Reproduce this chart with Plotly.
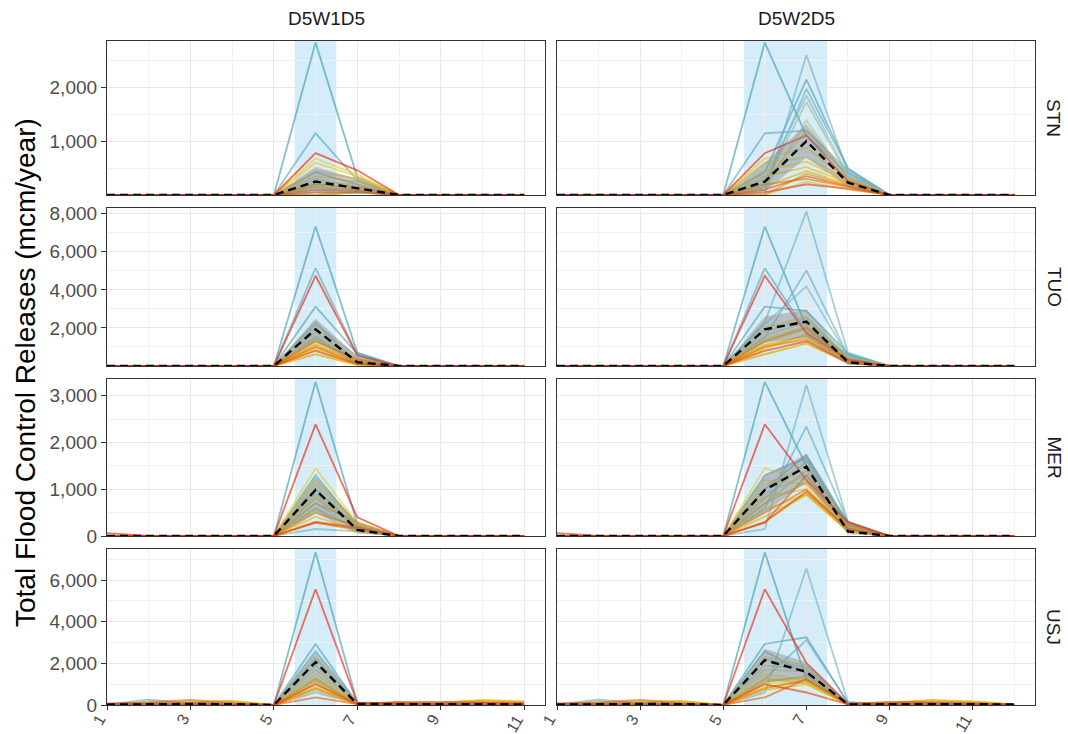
import plotly.graph_objects as go

# ---------------- data ----------------
YEARS_W1 = list(range(1, 12))
YEARS_W2 = list(range(1, 13))
SITES = ["STN", "TUO", "MER", "USJ"]
SCENARIOS = ["D5W1D5", "D5W2D5"]
WET_W1 = [5.5, 6.5]
WET_W2 = [5.5, 7.5]

# ensemble members (20), values at wet-period years (all other years are 0)
STN_X6    = [2840, 420, 1150, 150, 0, 300, 200, 100, 250, 0, 680, 600, 450, 350, 150, 0, 200, 100, 50, 780]
STN_W1_X7 = [330, 200, 280, 100, 50, 150, 120, 80, 200, 50, 380, 350, 300, 250, 100, 50, 150, 80, 60, 460]
STN_W2_X7 = [1100, 2150, 1200, 1980, 2610, 1850, 1730, 1390, 1200, 250, 880, 700, 620, 520, 450, 400, 300, 350, 200, 1110]
STN_W2_X8 = [400, 500, 450, 480, 420, 380, 350, 300, 330, 100, 300, 280, 250, 230, 200, 180, 150, 160, 120, 260]

TUO_X6    = [7330, 3120, 5140, 1500, 2300, 2200, 1800, 1600, 2000, 600, 1200, 900, 1400, 1000, 630, 1100, 1000, 1300, 800, 4740]
TUO_W1_X7 = [700, 650, 600, 150, 100, 500, 200, 150, 400, 50, 250, 150, 300, 100, 80, 200, 150, 350, 100, 550]
TUO_W2_X7 = [2050, 2900, 1800, 5020, 8120, 4180, 2500, 2300, 2600, 1200, 1900, 1700, 2100, 1500, 1170, 1600, 1400, 2000, 1300, 1720]
TUO_W2_X8 = [600, 650, 500, 550, 700, 500, 400, 350, 450, 150, 300, 250, 400, 300, 200, 250, 200, 300, 150, 350]

MER_X6    = [3300, 1000, 1300, 600, 150, 800, 700, 900, 1100, 300, 1450, 1200, 840, 560, 415, 700, 500, 280, 300, 2390]
MER_W1_X7 = [250, 200, 220, 150, 100, 180, 150, 200, 250, 100, 280, 250, 200, 150, 120, 300, 200, 150, 180, 400]
MER_W2_X7 = [1500, 1735, 1670, 2340, 3230, 1600, 1400, 1300, 1500, 900, 1200, 1100, 1000, 900, 880, 1150, 1000, 1300, 950, 1200]
MER_W2_X8 = [300, 280, 250, 300, 306, 250, 200, 220, 250, 100, 200, 180, 150, 120, 100, 200, 150, 250, 150, 300]
MER_X1    = [0, 0, 0, 0, 0, 0, 0, 0, 0, 0, 0, 0, 0, 0, 0, 0, 0, 0, 0, 60]

USJ_X6    = [7330, 2930, 2580, 1260, 600, 2200, 1900, 1700, 2300, 1020, 1500, 1300, 1190, 870, 710, 1100, 800, 370, 1000, 5560]
USJ_W1_X7 = [100, 80, 120, 60, 50, 100, 80, 60, 90, 40, 70, 60, 50, 40, 30, 60, 50, 40, 50, 100]
USJ_W1_X8 = [60, 50, 80, 40, 30, 60, 50, 40, 70, 30, 60, 50, 100, 40, 30, 120, 60, 150, 40, 80]
USJ_W2_X7 = [1200, 3250, 1500, 3120, 6550, 1800, 1700, 1600, 1900, 1100, 1180, 1020, 1300, 1100, 1000, 1400, 1200, 1250, 600, 2020]
USJ_W2_X8 = [80, 100, 60, 120, 150, 50, 40, 40, 50, 30, 40, 30, 50, 30, 20, 40, 30, 50, 30, 60]
# small off-season releases at USJ (years 1..12) for some members
USJ_BG = {
    2:  [30, 260, 90, 60, 0, 0, 0, 0, 80, 60, 40, 20],
    8:  [20, 180, 120, 90, 0, 0, 0, 0, 60, 90, 50, 20],
    12: [10, 80, 120, 200, 0, 0, 0, 0, 120, 220, 180, 40],
    14: [10, 60, 150, 180, 0, 0, 0, 0, 100, 250, 150, 30],
    17: [40, 120, 250, 100, 0, 0, 0, 0, 150, 150, 100, 30],
    19: [80, 60, 80, 40, 0, 0, 0, 0, 60, 100, 60, 20],
}

# ensemble mean and spread band
STN_MEAN_W1 = [0, 0, 0, 0, 0, 250, 130, 0, 0, 0, 0]
STN_LO_W1   = [0, 0, 0, 0, 0, 40, 30, 0, 0, 0, 0]
STN_HI_W1   = [0, 0, 0, 0, 0, 525, 300, 0, 0, 0, 0]
STN_MEAN_W2 = [0, 0, 0, 0, 0, 250, 1005, 230, 0, 0, 0, 0]
STN_LO_W2   = [0, 0, 0, 0, 0, 60, 700, 150, 0, 0, 0, 0]
STN_HI_W2   = [0, 0, 0, 0, 0, 600, 1320, 360, 0, 0, 0, 0]

TUO_MEAN_W1 = [0, 0, 0, 0, 0, 1930, 200, 0, 0, 0, 0]
TUO_LO_W1   = [0, 0, 0, 0, 0, 1300, 100, 0, 0, 0, 0]
TUO_HI_W1   = [0, 0, 0, 0, 0, 2500, 500, 0, 0, 0, 0]
TUO_MEAN_W2 = [0, 0, 0, 0, 0, 1930, 2330, 200, 0, 0, 0, 0]
TUO_LO_W2   = [0, 0, 0, 0, 0, 1250, 1500, 50, 0, 0, 0, 0]
TUO_HI_W2   = [0, 0, 0, 0, 0, 2600, 2950, 500, 0, 0, 0, 0]

MER_MEAN_W1 = [0, 0, 0, 0, 0, 985, 130, 0, 0, 0, 0]
MER_LO_W1   = [0, 0, 0, 0, 0, 500, 50, 0, 0, 0, 0]
MER_HI_W1   = [0, 0, 0, 0, 0, 1270, 300, 0, 0, 0, 0]
MER_MEAN_W2 = [0, 0, 0, 0, 0, 985, 1485, 100, 0, 0, 0, 0]
MER_LO_W2   = [0, 0, 0, 0, 0, 500, 1150, 30, 0, 0, 0, 0]
MER_HI_W2   = [0, 0, 0, 0, 0, 1300, 1750, 250, 0, 0, 0, 0]

USJ_MEAN_W1 = [20, 50, 50, 40, 0, 2060, 50, 40, 50, 40, 30]
USJ_LO_W1   = [0, 20, 20, 20, 0, 1150, 20, 20, 20, 20, 10]
USJ_HI_W1   = [60, 150, 150, 120, 30, 2540, 120, 100, 150, 120, 60]
USJ_MEAN_W2 = [20, 50, 50, 40, 0, 2150, 1590, 30, 40, 50, 40, 20]
USJ_LO_W2   = [0, 20, 20, 20, 0, 1100, 1150, 10, 20, 20, 20, 10]
USJ_HI_W2   = [60, 150, 150, 120, 30, 2700, 2050, 100, 120, 150, 120, 60]

Y_RANGES = {"STN": [0, 2870], "TUO": [0, 8300], "MER": [0, 3360], "USJ": [0, 7490]}
Y_TICKS = {"STN": [1000, 2000], "TUO": [2000, 4000, 6000, 8000],
           "MER": [0, 1000, 2000, 3000], "USJ": [0, 2000, 4000, 6000]}
Y_MINOR = {"STN": [500, 1500, 2500], "TUO": [1000, 3000, 5000, 7000],
           "MER": [500, 1500, 2500], "USJ": [1000, 3000, 5000, 7000]}
X_TICKS = [1, 3, 5, 7, 9, 11]

PANELS = {
    ("STN", 0): dict(cols={6: STN_X6, 7: STN_W1_X7}, mean=STN_MEAN_W1, lo=STN_LO_W1, hi=STN_HI_W1),
    ("STN", 1): dict(cols={6: STN_X6, 7: STN_W2_X7, 8: STN_W2_X8}, mean=STN_MEAN_W2, lo=STN_LO_W2, hi=STN_HI_W2),
    ("TUO", 0): dict(cols={6: TUO_X6, 7: TUO_W1_X7}, mean=TUO_MEAN_W1, lo=TUO_LO_W1, hi=TUO_HI_W1),
    ("TUO", 1): dict(cols={6: TUO_X6, 7: TUO_W2_X7, 8: TUO_W2_X8}, mean=TUO_MEAN_W2, lo=TUO_LO_W2, hi=TUO_HI_W2),
    ("MER", 0): dict(cols={1: MER_X1, 6: MER_X6, 7: MER_W1_X7}, mean=MER_MEAN_W1, lo=MER_LO_W1, hi=MER_HI_W1),
    ("MER", 1): dict(cols={1: MER_X1, 6: MER_X6, 7: MER_W2_X7, 8: MER_W2_X8}, mean=MER_MEAN_W2, lo=MER_LO_W2, hi=MER_HI_W2),
    ("USJ", 0): dict(cols={6: USJ_X6, 7: USJ_W1_X7, 8: USJ_W1_X8}, mean=USJ_MEAN_W1, lo=USJ_LO_W1, hi=USJ_HI_W1, bg=USJ_BG),
    ("USJ", 1): dict(cols={6: USJ_X6, 7: USJ_W2_X7, 8: USJ_W2_X8}, mean=USJ_MEAN_W2, lo=USJ_LO_W2, hi=USJ_HI_W2, bg=USJ_BG),
}
N_MEMBERS = len(STN_X6)

# ---------------- styling ----------------
ZISSOU = ["#3B9AB2", "#78B7C5", "#EBCC2A", "#E1AF00", "#F21A00"]


def hex2rgb(h):
    h = h.lstrip("#")
    return [int(h[i:i + 2], 16) for i in (0, 2, 4)]


def palette(n, alpha):
    stops = [hex2rgb(c) for c in ZISSOU]
    out = []
    for i in range(n):
        t = i / (n - 1) * (len(stops) - 1)
        k = min(int(t), len(stops) - 2)
        f = t - k
        rgb = [round(stops[k][j] + (stops[k + 1][j] - stops[k][j]) * f) for j in range(3)]
        out.append("rgba(%d,%d,%d,%.2f)" % (rgb[0], rgb[1], rgb[2], alpha))
    return out


COLORS = palette(N_MEMBERS, 0.62)
FONT = "Liberation Sans, Arial, sans-serif"
W, H = 1068, 734
COL_PX = [(107, 545), (557, 1035)]
ROW_PX = [(41, 195), (208, 366), (379, 536), (549, 705)]
X_RANGES = [[1, 11.5], [1, 12.5]]

fig = go.Figure()
layout = dict(width=W, height=H, margin=dict(l=0, r=0, t=0, b=0, autoexpand=False),
              paper_bgcolor="white", plot_bgcolor="white", showlegend=False,
              font=dict(family=FONT))
shapes = []
annotations = []

for r, site in enumerate(SITES):
    for c in range(2):
        k = r * 2 + c + 1
        xa = "x" if k == 1 else "x%d" % k
        ya = "y" if k == 1 else "y%d" % k
        years = YEARS_W1 if c == 0 else YEARS_W2
        p = PANELS[(site, c)]
        bg = p.get("bg", {})
        # member lines
        for i in range(N_MEMBERS):
            if i in bg:
                yv = list(bg[i][:len(years)])
            else:
                yv = [0] * len(years)
            for yr, arr in p["cols"].items():
                yv[yr - 1] = arr[i]
            fig.add_trace(go.Scatter(x=years, y=yv, mode="lines", xaxis=xa, yaxis=ya,
                                     line=dict(color=COLORS[i], width=1.8),
                                     hoverinfo="skip"))
        # spread band
        fig.add_trace(go.Scatter(x=years + years[::-1], y=p["hi"] + p["lo"][::-1],
                                 mode="lines", fill="toself", xaxis=xa, yaxis=ya,
                                 fillcolor="rgba(140,140,140,0.45)",
                                 line=dict(width=0, color="rgba(0,0,0,0)"),
                                 hoverinfo="skip"))
        # ensemble mean
        fig.add_trace(go.Scatter(x=years, y=p["mean"], mode="lines", xaxis=xa, yaxis=ya,
                                 line=dict(color="black", width=2.4, dash="8px,5px"),
                                 hoverinfo="skip"))
        # wet period shading
        wet = WET_W1 if c == 0 else WET_W2
        shapes.append(dict(type="rect", xref=xa, yref=ya + " domain", x0=wet[0], x1=wet[1],
                           y0=0, y1=1, fillcolor="rgba(86,180,233,0.25)",
                           line=dict(width=0), layer="below"))

        bottom = r == len(SITES) - 1
        left = c == 0
        xkey = "xaxis" if k == 1 else "xaxis%d" % k
        ykey = "yaxis" if k == 1 else "yaxis%d" % k
        layout[xkey] = dict(
            domain=[COL_PX[c][0] / W, COL_PX[c][1] / W], anchor=ya, automargin=False,
            range=X_RANGES[c], tickmode="array", tickvals=X_TICKS,
            showticklabels=False, ticks="outside" if bottom else "",
            ticklen=4, tickwidth=1.1, tickcolor="#333333",
            showgrid=True, gridcolor="#e8e8e8", gridwidth=1.2,
            minor=dict(tickvals=list(range(2, 13, 2)), showgrid=True,
                       gridcolor="#f1f1f1", gridwidth=0.8, ticks=""),
            showline=True, mirror=True, linecolor="#333333", linewidth=1.2,
            zeroline=False, fixedrange=True)
        layout[ykey] = dict(
            domain=[1 - ROW_PX[r][1] / H, 1 - ROW_PX[r][0] / H], anchor=xa, automargin=False,
            range=Y_RANGES[site], tickmode="array", tickvals=Y_TICKS[site],
            ticktext=["{:,}".format(v) for v in Y_TICKS[site]],
            showticklabels=left, ticks="outside" if left else "",
            ticklen=5, tickwidth=1.1, tickcolor="#333333",
            tickfont=dict(size=19, color="#4d4d4d", family=FONT),
            showgrid=True, gridcolor="#e8e8e8", gridwidth=1.2,
            minor=dict(tickvals=Y_MINOR[site], showgrid=True,
                       gridcolor="#f1f1f1", gridwidth=0.8, ticks=""),
            showline=True, mirror=True, linecolor="#333333", linewidth=1.2,
            zeroline=False, fixedrange=True)
        # rotated x tick labels on the bottom row
        if bottom:
            for v in X_TICKS:
                annotations.append(dict(text=str(v), xref=xa, yref="paper", x=v,
                                        y=1 - 709 / H, xanchor="right", yanchor="top",
                                        xshift=5, textangle=-60, showarrow=False,
                                        font=dict(size=16, color="#4d4d4d", family=FONT)))

# strip labels
for c, name in enumerate(SCENARIOS):
    annotations.append(dict(text=name, xref="paper", yref="paper",
                            x=(COL_PX[c][0] + COL_PX[c][1]) / 2 / W, y=1 - 19 / H,
                            showarrow=False, xanchor="center", yanchor="middle",
                            font=dict(size=19, color="#1a1a1a", family=FONT)))
for r, site in enumerate(SITES):
    annotations.append(dict(text=site, xref="paper", yref="paper",
                            x=1054 / W, y=1 - (ROW_PX[r][0] + ROW_PX[r][1]) / 2 / H,
                            showarrow=False, textangle=90, xanchor="center", yanchor="middle",
                            font=dict(size=19, color="#1a1a1a", family=FONT)))
annotations.append(dict(text="Total Flood Control Releases (mcm/year)", xref="paper", yref="paper",
                        x=25 / W, y=1 - 373 / H, showarrow=False, textangle=-90,
                        xanchor="center", yanchor="middle",
                        font=dict(size=28, color="black", family=FONT)))

layout["shapes"] = shapes
layout["annotations"] = annotations
fig.update_layout(**layout)
fig.write_html("out.html")
